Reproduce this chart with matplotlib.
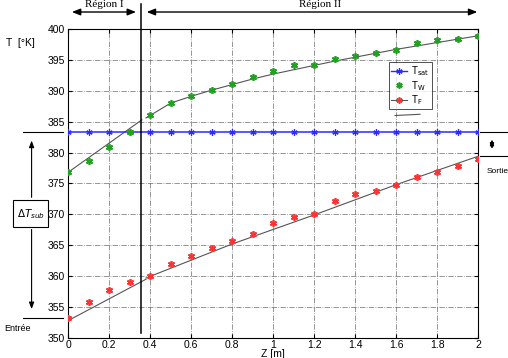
import numpy as np
import matplotlib
matplotlib.use("Agg")
import matplotlib.pyplot as plt
from matplotlib.lines import Line2D
from matplotlib.patches import Rectangle

# data
z = [0.0, 0.1, 0.2, 0.3, 0.4, 0.5, 0.6, 0.7, 0.8, 0.9, 1.0,
     1.1, 1.2, 1.3, 1.4, 1.5, 1.6, 1.7, 1.8, 1.9, 2.0]
T_sat = [383.3] * len(z)
T_w = [376.9, 378.6, 380.9, 383.3, 386.1, 388.1, 389.2, 390.2, 391.1, 392.2, 393.2,
       394.1, 394.1, 395.1, 395.7, 396.1, 396.6, 397.7, 398.3, 398.4, 398.9]
T_f = [353.3, 355.8, 357.8, 359.0, 360.0, 361.9, 363.2, 364.5, 365.7, 366.9, 368.6,
       369.5, 370.1, 372.1, 373.3, 373.8, 374.7, 376.0, 376.8, 377.9, 379.0]

# fitted curves (black lines), region I and region II
zw_fit1 = [0.0, 0.36]
tw_fit1 = [376.8, 385.3]
zw_fit2 = [0.38, 0.5, 0.6, 0.7, 0.8, 0.9, 1.0, 1.3, 1.6, 2.0]
tw_fit2 = [385.6, 388.0, 389.1, 390.1, 391.0, 391.9, 392.7, 394.8, 396.7, 398.9]
zf_fit1 = [0.0, 0.38]
tf_fit1 = [352.8, 359.5]
zf_fit2 = [0.38, 0.8, 1.2, 1.6, 2.0]
tf_fit2 = [359.7, 365.2, 369.9, 374.8, 379.4]

z_limit = 0.358  # boundary region I / region II

xticks = [0, 0.2, 0.4, 0.6, 0.8, 1, 1.2, 1.4, 1.6, 1.8, 2]
xticklabels = ["0", "0.2", "0.4", "0.6", "0.8", "1", "1.2", "1.4", "1.6", "1.8", "2"]
yticks = [350, 355, 360, 365, 370, 375, 380, 385, 390, 395, 400]

plt.rcParams["font.family"] = ["Liberation Sans", "DejaVu Sans"]

fig = plt.figure(figsize=(5.08, 3.58), dpi=100)
ax = fig.add_axes([0.134, 0.056, 0.807, 0.863])

ast = (6, 2, 0)
ax.plot(z, T_sat, color="#2a2aff", lw=1.1, marker=ast, ms=4.5, mew=0.9, zorder=3)
ax.plot(z, T_w, ls="none", color="#22a022", marker=ast, ms=5, mew=1.2, zorder=3)
ax.plot(z, T_f, ls="none", color="#ff3333", marker=ast, ms=5, mew=1.2, zorder=3)
for zz, tt in [(zw_fit1, tw_fit1), (zw_fit2, tw_fit2), (zf_fit1, tf_fit1), (zf_fit2, tf_fit2)]:
    ax.plot(zz, tt, color="#555555", lw=0.8, zorder=2)

ax.set_xlim(0, 2)
ax.set_ylim(350, 400)
ax.set_xticks(xticks)
ax.set_xticklabels(xticklabels)
ax.set_yticks(yticks)
ax.tick_params(labelsize=7.5, length=3, direction="in", top=True, right=True)
ax.tick_params(axis="x", pad=1.5)
ax.tick_params(axis="y", pad=2.5)
ax.grid(True, color="#666666", ls="-.", lw=0.6, alpha=0.8)
for s in ax.spines.values():
    s.set_linewidth(0.8)

ax.set_xlabel("Z [m]", fontsize=7.5, labelpad=-1)
fig.text(0.012, 0.88, "T  [°K]", fontsize=7.5, va="center")

# vertical boundary line
ax.plot([z_limit, z_limit], [350.8, 404.0], color="black", lw=1.1, clip_on=False, zorder=4)

# region arrows
ya = 402.75
ax.annotate("", xy=(0.005, ya), xytext=(0.345, ya), annotation_clip=False,
            arrowprops=dict(arrowstyle="<|-|>,head_length=0.5,head_width=0.2", color="black", lw=1.0))
ax.annotate("", xy=(0.37, ya), xytext=(2.01, ya), annotation_clip=False,
            arrowprops=dict(arrowstyle="<|-|>,head_length=0.5,head_width=0.2", color="black", lw=1.0))
ax.text(0.175, 404.0, "Région I", family="Liberation Serif", fontsize=8, ha="center", va="center")
ax.text(1.23, 404.0, "Région II", family="Liberation Serif", fontsize=8, ha="center", va="center")

# left annotation: delta T sub
ax.plot([-0.22, -0.024], [383.3, 383.3], color="black", lw=0.8, clip_on=False)
ax.plot([-0.22, -0.024], [353.2, 353.2], color="black", lw=0.8, clip_on=False)
ax.annotate("", xy=(-0.178, 382.4), xytext=(-0.178, 372.3), annotation_clip=False,
            arrowprops=dict(arrowstyle="-|>,head_length=0.4,head_width=0.15", color="black", lw=0.8))
ax.annotate("", xy=(-0.178, 354.2), xytext=(-0.178, 368.0), annotation_clip=False,
            arrowprops=dict(arrowstyle="-|>,head_length=0.4,head_width=0.15", color="black", lw=0.8))
ax.add_patch(Rectangle((-0.268, 367.96), 0.17, 4.34, facecolor="white", edgecolor="black",
                       lw=0.8, clip_on=False, zorder=5))
ax.text(-0.183, 370.1, r"$\Delta T_{sub}$", fontsize=7.5, ha="center", va="center", zorder=6)
ax.text(-0.31, 351.6, "Entrée", fontsize=6.5, ha="left", va="center")

# right annotation: sortie
ax.plot([2.01, 2.16], [383.3, 383.3], color="black", lw=0.8, clip_on=False)
ax.plot([2.01, 2.16], [379.4, 379.4], color="black", lw=0.8, clip_on=False)
ax.annotate("", xy=(2.068, 382.6), xytext=(2.068, 380.1), annotation_clip=False,
            arrowprops=dict(arrowstyle="<|-|>,head_length=0.35,head_width=0.12", color="black", lw=0.8))
ax.text(2.043, 376.9, "Sortie", fontsize=6, ha="left", va="center")

# legend
handles = [
    Line2D([], [], color="#2a2aff", lw=1.0, marker=ast, ms=4.5, mew=0.9),
    Line2D([], [], ls="none", color="#22a022", marker=ast, ms=4.5, mew=1.2),
    Line2D([], [], color="#555555", lw=0.8, marker=ast, ms=4.5, mew=1.2, mfc="#ff3333", mec="#ff3333"),
]
leg = ax.legend(handles, [r"T$_{\rm sat}$", r"T$_{\rm W}$", r"T$_{\rm F}$"],
                loc="upper left", bbox_to_anchor=(0.783, 0.893), fontsize=7,
                frameon=True, fancybox=False, edgecolor="black", handlelength=1.6,
                handletextpad=0.4, borderpad=0.25, labelspacing=0.05, borderaxespad=0)
leg.get_frame().set_linewidth(0.6)
ax.plot([1.595, 1.717], [386.0, 386.2], color="#555555", lw=0.8)

fig.savefig("out.png", dpi=100)
